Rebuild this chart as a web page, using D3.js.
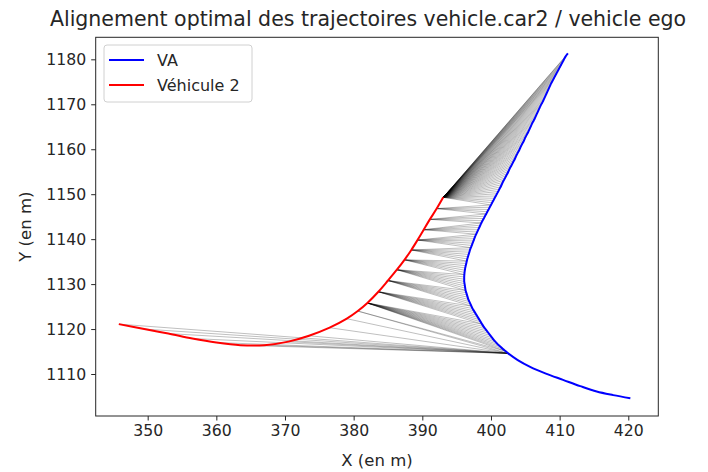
<!DOCTYPE html>
<html>
<head>
<meta charset="utf-8">
<script src="https://cdn.jsdelivr.net/npm/d3@7"></script>
<style>
  body { margin: 0; background: #fff; }
  text { font-family: "DejaVu Sans", sans-serif; fill: #262626; }
</style>
</head>
<body>
<div id="chart"></div>
<script>
// trajectory of vehicle 2 (red)
var redX = [345.8, 349.5, 353.0, 356.5, 360.0, 363.5, 367.0, 370.5, 373.5, 376.5, 379.0, 380.6,
            382.0, 383.6, 385.0, 386.3, 387.4, 388.4, 389.3, 390.2, 391.1, 392.1, 393.05];
var redY = [1121.1, 1120.0, 1119.0, 1117.9, 1117.0, 1116.4, 1116.4, 1117.2, 1118.5, 1120.3, 1122.3, 1124.0,
            1125.8, 1128.3, 1130.8, 1133.2, 1135.4, 1137.6, 1139.8, 1142.1, 1144.4, 1146.8, 1149.3];

// trajectory of the ego vehicle (blue), from bottom right to top
var blueX = [420.3, 417.8, 415.4, 413.0, 410.5, 408.0, 405.7, 403.9,
  402.5, 402.1, 401.7, 401.35, 401.0, 400.7, 400.4, 400.15, 399.9, 399.65, 399.4, 399.15,
  398.9, 398.7, 398.5, 398.3, 398.1, 397.9, 397.7, 397.5, 397.3, 397.15, 397.0, 396.85,
  396.7, 396.6, 396.5, 396.4, 396.3, 396.25, 396.2, 396.15, 396.1, 396.1, 396.1, 396.12,
  396.15, 396.2, 396.25, 396.32, 396.4, 396.47, 396.55, 396.65, 396.75, 396.85, 396.95, 397.07,
  397.2, 397.32, 397.45, 397.57, 397.7, 397.85, 398.0, 398.15, 398.3, 398.45, 398.6, 398.77,
  398.95, 399.12, 399.3, 399.47, 399.65, 399.82, 400.0, 400.17, 400.35, 400.52, 400.7, 400.87,
  401.05, 401.22, 401.4, 401.55, 401.7, 401.87, 402.05, 402.22, 402.4, 402.55, 402.7, 402.87,
  403.05, 403.22, 403.4, 403.55, 403.7, 403.87, 404.05, 404.2, 404.35, 404.52, 404.7, 404.85,
  405.0, 405.17, 405.35, 405.5, 405.65, 405.8, 405.95, 406.12, 406.3, 406.45, 406.6, 406.75,
  406.9, 407.05, 407.2, 407.37, 407.55, 407.7, 407.85, 408.0, 408.15, 408.3, 408.45, 408.6,
  408.75, 408.92, 409.1, 409.27, 409.45, 409.62, 409.8, 409.97, 410.15, 410.32, 410.5, 410.67,
  410.85, 411.2];
var blueY = [1104.6, 1105.3, 1106.1, 1107.3, 1108.7, 1110.1, 1111.6, 1113.1,
  1114.6, 1115.1, 1115.6, 1116.1, 1116.6, 1117.1, 1117.6, 1118.1, 1118.6, 1119.1, 1119.6, 1120.1,
  1120.6, 1121.1, 1121.6, 1122.1, 1122.6, 1123.1, 1123.6, 1124.1, 1124.6, 1125.1, 1125.6, 1126.1,
  1126.6, 1127.1, 1127.6, 1128.1, 1128.6, 1129.1, 1129.6, 1130.1, 1130.6, 1131.1, 1131.6, 1132.1,
  1132.6, 1133.1, 1133.6, 1134.1, 1134.6, 1135.1, 1135.6, 1136.1, 1136.6, 1137.1, 1137.6, 1138.1,
  1138.6, 1139.1, 1139.6, 1140.1, 1140.6, 1141.1, 1141.6, 1142.1, 1142.6, 1143.1, 1143.6, 1144.1,
  1144.6, 1145.1, 1145.6, 1146.1, 1146.6, 1147.1, 1147.6, 1148.1, 1148.6, 1149.1, 1149.6, 1150.1,
  1150.6, 1151.1, 1151.6, 1152.1, 1152.6, 1153.1, 1153.6, 1154.1, 1154.6, 1155.1, 1155.6, 1156.1,
  1156.6, 1157.1, 1157.6, 1158.1, 1158.6, 1159.1, 1159.6, 1160.1, 1160.6, 1161.1, 1161.6, 1162.1,
  1162.6, 1163.1, 1163.6, 1164.1, 1164.6, 1165.1, 1165.6, 1166.1, 1166.6, 1167.1, 1167.6, 1168.1,
  1168.6, 1169.1, 1169.6, 1170.1, 1170.6, 1171.1, 1171.6, 1172.1, 1172.6, 1173.1, 1173.6, 1174.1,
  1174.6, 1175.1, 1175.6, 1176.1, 1176.6, 1177.1, 1177.6, 1178.1, 1178.6, 1179.1, 1179.6, 1180.1,
  1180.6, 1181.3];

// warping path: red point i matched with blue points from..to
var pathRed  = [0, 1, 2, 3, 4, 5, 6, 7, 8, 9, 10, 11, 12, 13, 14, 15, 16, 17, 18, 19, 20, 21, 22];
var pathFrom = [8, 8, 8, 8, 8, 8, 8, 8, 8, 8, 8, 8, 9, 21, 29, 36, 43, 49, 55, 61, 66, 70, 74];
var pathTo   = [8, 8, 8, 8, 8, 8, 8, 8, 8, 8, 8, 9, 21, 29, 36, 43, 49, 55, 61, 66, 70, 74, 141];

var xTicks = [350, 360, 370, 380, 390, 400, 410, 420];
var yTicks = [1110, 1120, 1130, 1140, 1150, 1160, 1170, 1180];
var seriesNames = ["VA", "Véhicule 2"];
var seriesColors = ["#0000ff", "#ff0000"];

var W = 708, H = 472;
var margin = { top: 37.3, right: 708 - 658.3, bottom: 472 - 416, left: 95.7 },
    width = W - margin.left - margin.right,
    height = H - margin.top - margin.bottom;

var svg = d3.select("#chart").append("svg")
    .attr("width", W).attr("height", H);

var g = svg.append("g")
    .attr("transform", "translate(" + margin.left + "," + margin.top + ")");

var x = d3.scaleLinear().domain([342.43, 424.37]).range([0, width]);
var y = d3.scaleLinear().domain([1100.66, 1184.9]).range([height, 0]);

// alignment lines
var pairs = [];
pathRed.forEach(function (r, i) {
    for (var b = pathFrom[i]; b <= pathTo[i]; b++) pairs.push([r, b]);
});
g.append("g").selectAll("line")
    .data(pairs)
    .enter().append("line")
    .attr("x1", function (d) { return x(redX[d[0]]); })
    .attr("y1", function (d) { return y(redY[d[0]]); })
    .attr("x2", function (d) { return x(blueX[d[1]]); })
    .attr("y2", function (d) { return y(blueY[d[1]]); })
    .attr("stroke", "#000")
    .attr("stroke-opacity", 0.25)
    .attr("stroke-width", 1);

var line = d3.line()
    .x(function (d) { return x(d[0]); })
    .y(function (d) { return y(d[1]); })
    .curve(d3.curveCatmullRom);

g.append("path")
    .datum(blueX.map(function (v, i) { return [v, blueY[i]]; }))
    .attr("d", line)
    .attr("fill", "none").attr("stroke", seriesColors[0]).attr("stroke-width", 2);

g.append("path")
    .datum(redX.map(function (v, i) { return [v, redY[i]]; }))
    .attr("d", line)
    .attr("fill", "none").attr("stroke", seriesColors[1]).attr("stroke-width", 2);

// axes
var xAxis = g.append("g")
    .attr("transform", "translate(0," + height + ")")
    .call(d3.axisBottom(x).tickValues(xTicks).tickFormat(d3.format("d")).tickSize(4.5).tickPadding(4));
var yAxis = g.append("g")
    .call(d3.axisLeft(y).tickValues(yTicks).tickFormat(d3.format("d")).tickSize(4.5).tickPadding(5));
[xAxis, yAxis].forEach(function (a) {
    a.select(".domain").remove();
    a.selectAll("line").attr("stroke", "#262626");
    a.selectAll("text").style("font-size", "15.7px").attr("fill", "#262626")
        .style("font-family", "DejaVu Sans, sans-serif");
});

// frame
g.append("rect")
    .attr("width", width).attr("height", height)
    .attr("fill", "none").attr("stroke", "#262626").attr("stroke-width", 1);

// title and axis labels
svg.append("text")
    .attr("x", margin.left + width / 2 - 9).attr("y", 26)
    .attr("text-anchor", "middle")
    .style("font-size", "20.5px")
    .text("Alignement optimal des trajectoires vehicle.car2 / vehicle ego");

svg.append("text")
    .attr("x", margin.left + width / 2).attr("y", 466)
    .attr("text-anchor", "middle")
    .style("font-size", "16.5px")
    .text("X (en m)");

svg.append("text")
    .attr("transform", "translate(31," + (margin.top + height / 2) + ") rotate(-90)")
    .attr("text-anchor", "middle")
    .style("font-size", "16.5px")
    .text("Y (en m)");

// legend
var legend = svg.append("g").attr("transform", "translate(104,45)");
legend.append("rect")
    .attr("width", 148).attr("height", 57).attr("rx", 3)
    .attr("fill", "#fff").attr("fill-opacity", 0.8)
    .attr("stroke", "#d0d0d0").attr("stroke-width", 1);
seriesNames.forEach(function (name, i) {
    legend.append("line")
        .attr("x1", 5).attr("x2", 40)
        .attr("y1", 15 + i * 25).attr("y2", 15 + i * 25)
        .attr("stroke", seriesColors[i]).attr("stroke-width", 2);
    legend.append("text")
        .attr("x", 53).attr("y", 21 + i * 25)
        .style("font-size", "16px")
        .text(name);
});
</script>
</body>
</html>
